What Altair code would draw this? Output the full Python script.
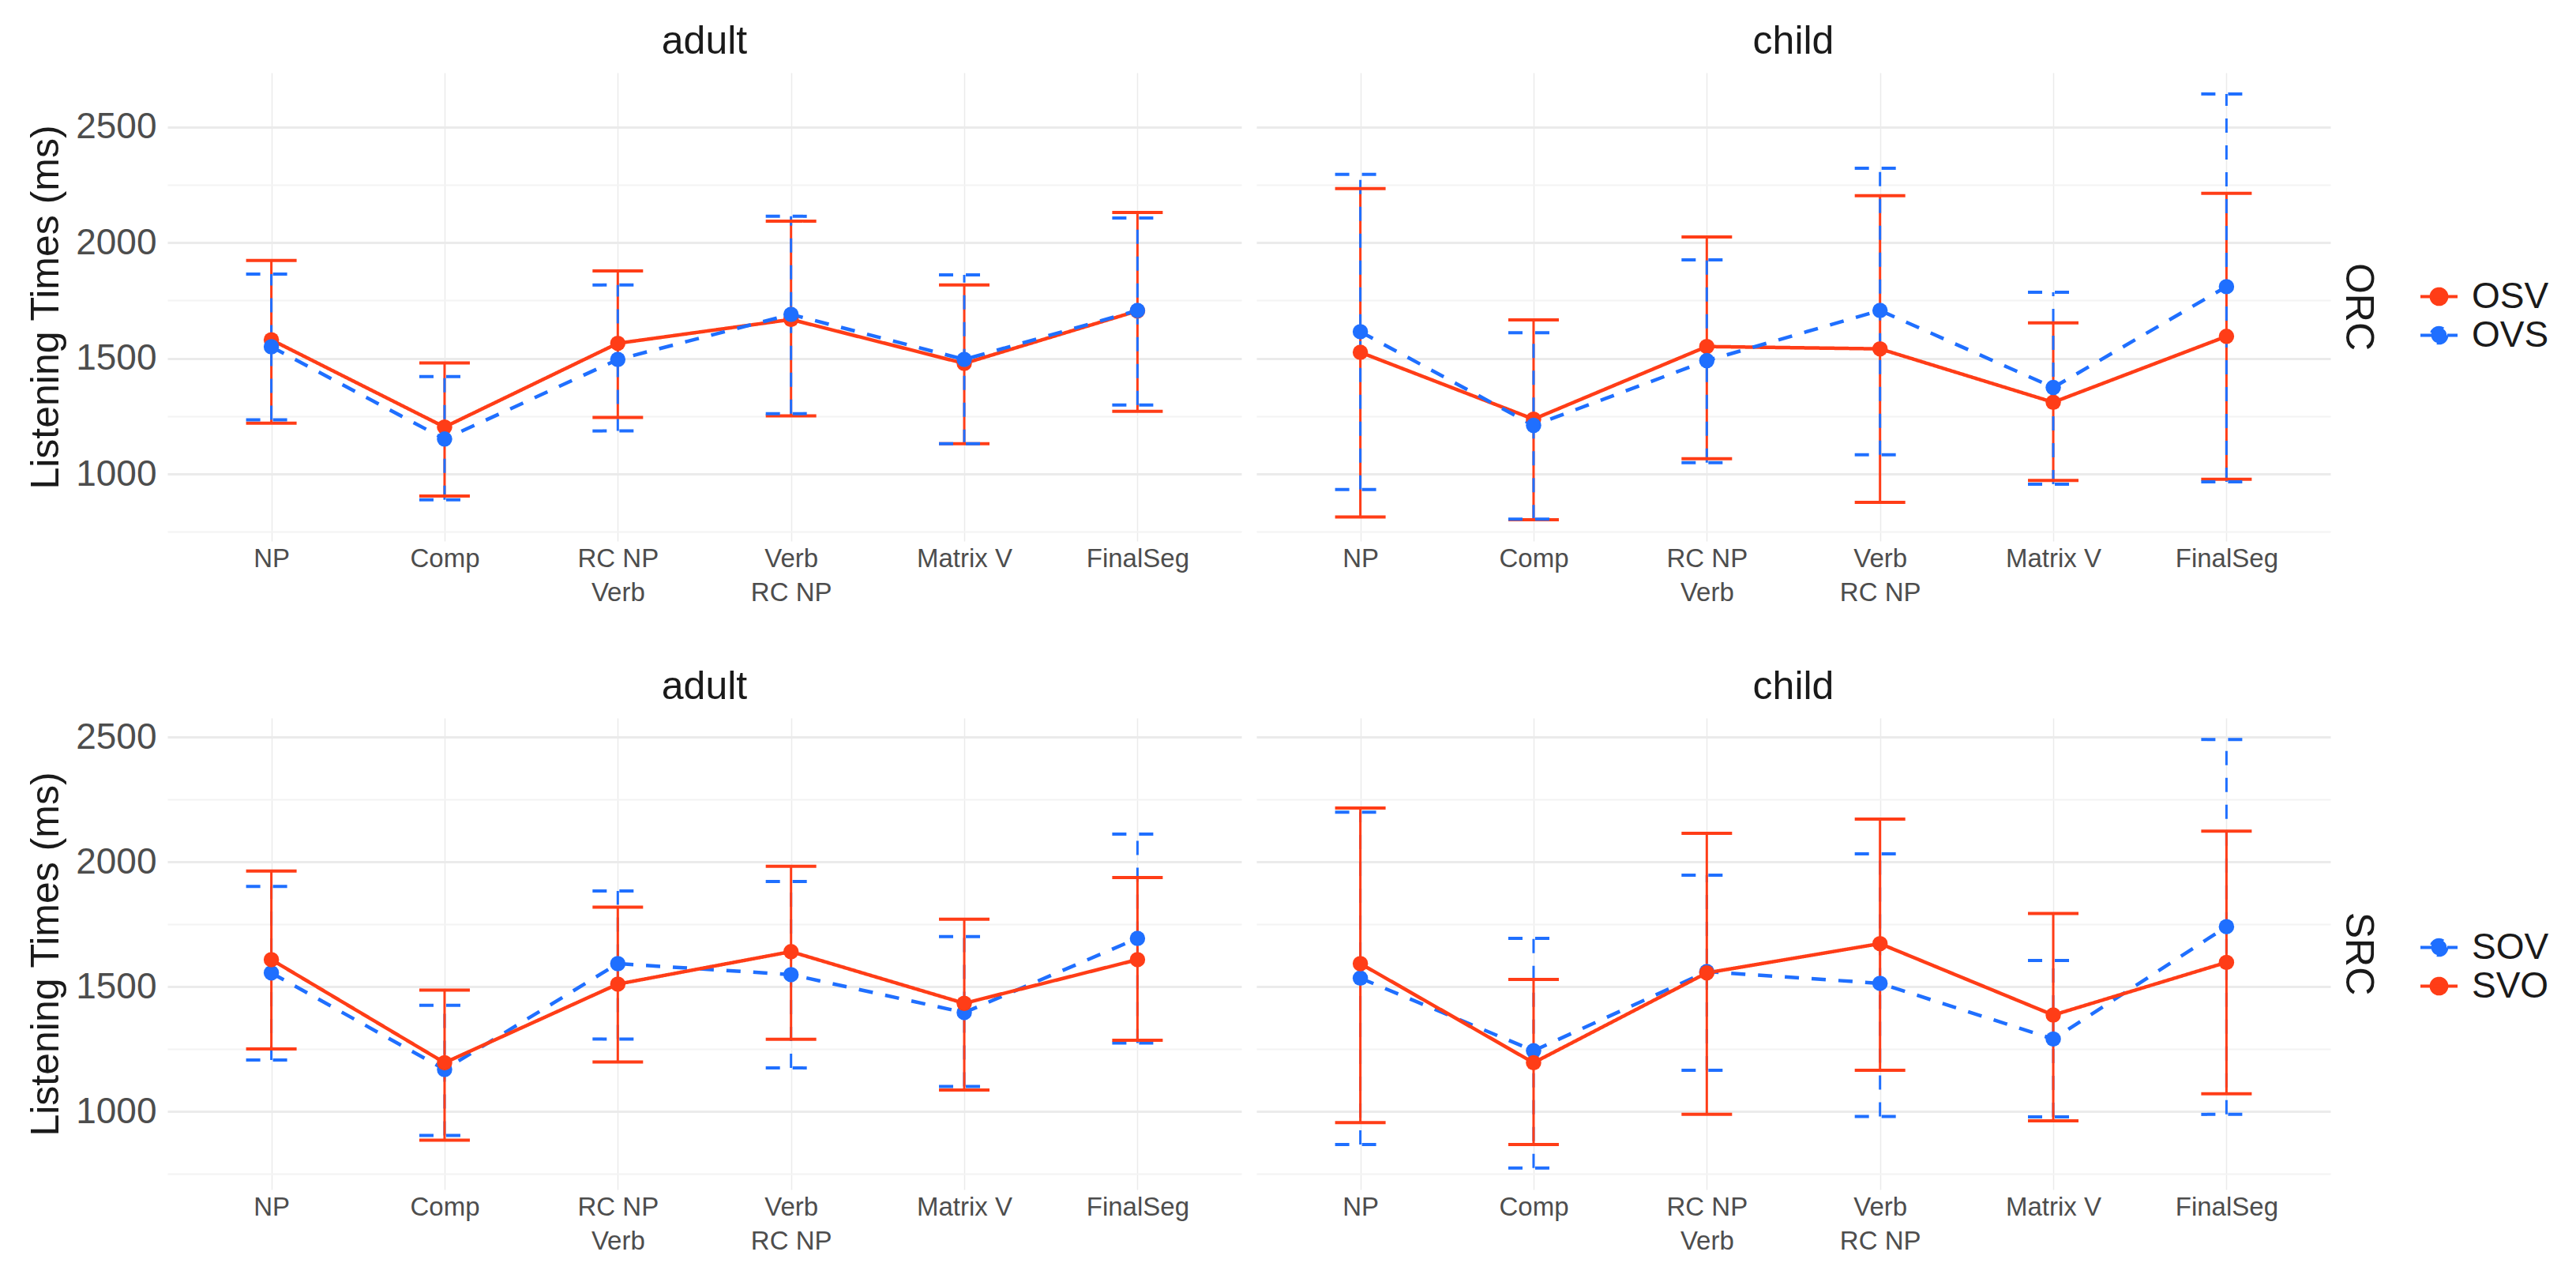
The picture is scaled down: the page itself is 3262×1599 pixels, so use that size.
import altair as alt
import pandas as pd

segments = ["NP", "Comp", "RC NP\nVerb", "Verb\nRC NP", "Matrix V", "FinalSeg"]
ages = ["adult", "child"]

# ---- ORC row ----
orc_conds = ["OSV", "OVS"]
orc_colors = ["#FF3D17", "#1F6FFF"]
orc_adult_osv_mean = [1580, 1203, 1565, 1668, 1478, 1705]
orc_adult_osv_lo = [1220, 905, 1244, 1251, 1131, 1271]
orc_adult_osv_hi = [1923, 1480, 1878, 2093, 1817, 2131]
orc_adult_ovs_mean = [1550, 1151, 1495, 1690, 1495, 1707]
orc_adult_ovs_lo = [1234, 888, 1186, 1261, 1131, 1298]
orc_adult_ovs_hi = [1864, 1421, 1817, 2114, 1861, 2107]
orc_child_osv_mean = [1526, 1237, 1551, 1541, 1310, 1595]
orc_child_osv_lo = [814, 802, 1066, 877, 972, 977]
orc_child_osv_hi = [2234, 1666, 2025, 2203, 1653, 2213]
orc_child_ovs_mean = [1615, 1210, 1490, 1707, 1374, 1810]
orc_child_ovs_lo = [933, 805, 1049, 1083, 956, 966]
orc_child_ovs_hi = [2295, 1611, 1926, 2322, 1786, 2643]

# ---- SRC row ----
src_conds = ["SOV", "SVO"]
src_colors = ["#1F6FFF", "#FF3D17"]
src_adult_sov_mean = [1555, 1168, 1592, 1548, 1396, 1693]
src_adult_sov_lo = [1206, 904, 1290, 1174, 1100, 1274]
src_adult_sov_hi = [1901, 1425, 1883, 1921, 1700, 2111]
src_adult_svo_mean = [1608, 1195, 1510, 1640, 1433, 1608]
src_adult_svo_lo = [1250, 885, 1198, 1289, 1086, 1285]
src_adult_svo_hi = [1963, 1486, 1818, 1982, 1770, 1937]
src_child_sov_mean = [1534, 1243, 1560, 1513, 1290, 1740]
src_child_sov_lo = [867, 773, 1165, 980, 978, 988]
src_child_sov_hi = [2199, 1693, 1946, 2032, 1605, 2490]
src_child_svo_mean = [1592, 1195, 1555, 1672, 1386, 1597]
src_child_svo_lo = [955, 867, 988, 1165, 962, 1071]
src_child_svo_hi = [2215, 1529, 2114, 2171, 1793, 2123]

y_values = [750, 1000, 1250, 1500, 1750, 2000, 2250, 2500]

FONT = "Liberation Sans"


def build_df(rc, entries):
    rows = []
    for age, cond, mean, lo, hi in entries:
        for s, m, l, h in zip(segments, mean, lo, hi):
            rows.append({"rc": rc, "age": age, "cond": cond, "seg": s,
                         "mean": m, "lo": l, "hi": h})
    return pd.DataFrame(rows)


orc_df = build_df("ORC", [
    ("adult", "OSV", orc_adult_osv_mean, orc_adult_osv_lo, orc_adult_osv_hi),
    ("adult", "OVS", orc_adult_ovs_mean, orc_adult_ovs_lo, orc_adult_ovs_hi),
    ("child", "OSV", orc_child_osv_mean, orc_child_osv_lo, orc_child_osv_hi),
    ("child", "OVS", orc_child_ovs_mean, orc_child_ovs_lo, orc_child_ovs_hi),
])
src_df = build_df("SRC", [
    ("adult", "SOV", src_adult_sov_mean, src_adult_sov_lo, src_adult_sov_hi),
    ("adult", "SVO", src_adult_svo_mean, src_adult_svo_lo, src_adult_svo_hi),
    ("child", "SOV", src_child_sov_mean, src_child_sov_lo, src_child_sov_hi),
    ("child", "SVO", src_child_svo_mean, src_child_svo_lo, src_child_svo_hi),
])

LEGEND_PATH = "M-1,0L1,0M0.42,0A0.42,0.42,0,1,1,-0.42,0A0.42,0.42,0,1,1,0.42,0Z"


def row_chart(df, conds, colors, dashes, domain, height, legend_y):
    xenc = alt.X(
        "seg:N", sort=segments, title=None,
        scale=alt.Scale(type="point", padding=0.6),
        axis=alt.Axis(labelExpr="split(datum.label, '\\n')", labelFontSize=33,
                      labelColor="#4D4D4D", labelAngle=0, labelPadding=6,
                      labelLineHeight=43, ticks=False, domain=False,
                      grid=True, gridColor="#EBEBEB", gridWidth=1.5),
    )
    yscale = alt.Scale(domain=domain, nice=False, zero=False)
    yaxis = alt.Axis(
        values=y_values, format="d",
        labelExpr="datum.value % 500 === 0 ? datum.label : ''",
        labelFontSize=46, labelColor="#4D4D4D", labelPadding=14,
        ticks=False, domain=False, grid=True,
        gridColor={"condition": {"test": "datum.value % 500 === 0", "value": "#EBEBEB"}, "value": "#F3F3F3"},
        gridWidth={"condition": {"test": "datum.value % 500 === 0", "value": 3}, "value": 1.8},
        titleFontSize=50, titleFontWeight="normal", titleColor="#1A1A1A", titlePadding=12,
    )
    ytitle = "Listening Times (ms)"
    color = alt.Color(
        "cond:N",
        scale=alt.Scale(domain=conds, range=colors),
        legend=alt.Legend(
            title=None, orient="none", legendX=2851, legendY=legend_y,
            symbolType=LEGEND_PATH, symbolSize=2209, symbolStrokeWidth=4,
            labelFontSize=46, labelColor="#1A1A1A", labelOffset=16,
            rowPadding=0,
        ),
    )
    dash = alt.StrokeDash("cond:N", scale=alt.Scale(domain=conds, range=dashes), legend=None)

    base = alt.Chart().encode(x=xenc, color=color)
    err = base.mark_rule(strokeWidth=3).encode(
        y=alt.Y("lo:Q", scale=yscale, axis=yaxis, title=ytitle), y2="hi:Q", strokeDash=dash)
    cap_hi = base.mark_rule(strokeWidth=4, xOffset=-32, x2Offset=32).encode(
        x2=alt.X2("seg:N"), y=alt.Y("hi:Q", scale=yscale, axis=yaxis, title=ytitle), strokeDash=dash)
    cap_lo = base.mark_rule(strokeWidth=4, xOffset=-32, x2Offset=32).encode(
        x2=alt.X2("seg:N"), y=alt.Y("lo:Q", scale=yscale, axis=yaxis, title=ytitle), strokeDash=dash)
    line = base.mark_line(strokeWidth=4.5).encode(
        y=alt.Y("mean:Q", scale=yscale, axis=yaxis, title=ytitle), strokeDash=dash)
    pts = base.mark_circle(size=380, opacity=1).encode(
        y=alt.Y("mean:Q", scale=yscale, axis=yaxis, title=ytitle))

    layered = alt.layer(err, cap_hi, cap_lo, line, pts, data=df).properties(width=1360, height=height)
    return layered.facet(
        column=alt.Column("age:N", sort=ages, header=alt.Header(
            title=None, labelFontSize=50, labelColor="#1A1A1A", labelPadding=14, labelFont=FONT)),
        row=alt.Row("rc:N", header=alt.Header(
            title=None, labelOrient="right", labelAngle=90, labelFontSize=50,
            labelColor="#1A1A1A", labelPadding=10, labelFont=FONT)),
        spacing={"column": 19, "row": 0},
    )


top = row_chart(orc_df, orc_conds, orc_colors, [[1, 0], [18, 16]], [710, 2735], 593, 258)
bottom = row_chart(src_df, src_conds, src_colors, [[18, 16], [1, 0]], [687, 2576], 597, 265)

chart = alt.vconcat(top, bottom, spacing=78).resolve_scale(
    color="independent", strokeDash="independent", y="independent", x="independent"
).properties(
    padding={"left": 25, "top": 20, "right": 10, "bottom": 10}
).configure(
    font=FONT,
).configure_view(
    stroke=None,
)

chart.save("out.html", embed_options={"renderer": "svg", "actions": False})
